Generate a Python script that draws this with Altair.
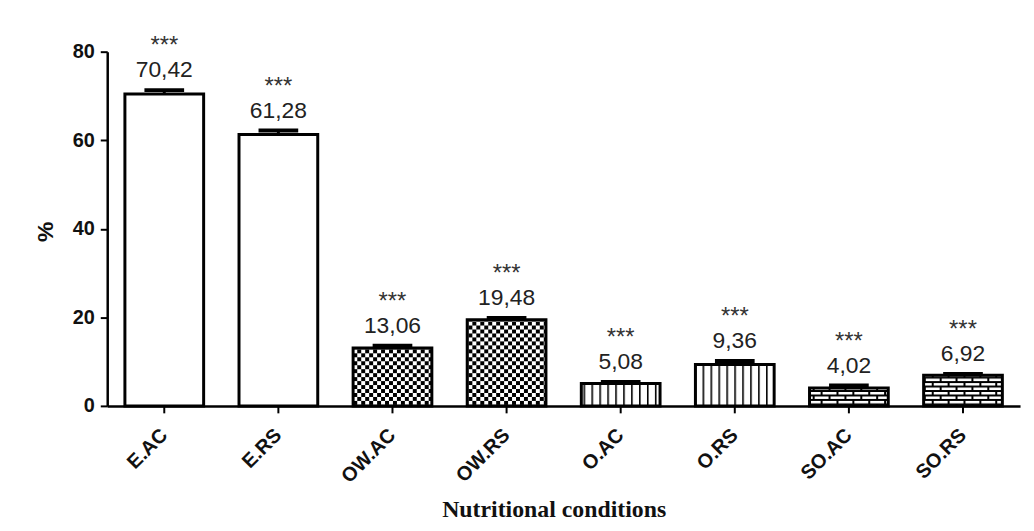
import jinja2
import altair as alt
import pandas as pd

# ---- data ----
categories = ["E.AC", "E.RS", "OW.AC", "OW.RS", "O.AC", "O.RS", "SO.AC", "SO.RS"]
values = [70.42, 61.28, 13.06, 19.48, 5.08, 9.36, 4.02, 6.92]
errors = [0.9, 0.9, 0.5, 0.4, 0.3, 0.8, 0.6, 0.3]
groups = ["E", "E", "OW", "OW", "O", "O", "SO", "SO"]
stars = ["***", "***", "***", "***", "***", "***", "***", "***"]
group_order = ["E", "OW", "O", "SO"]
y_ticks = [0, 20, 40, 60, 80]

df = pd.DataFrame({"cond": categories, "pct": values, "sem": errors,
                   "grp": groups, "sig": stars})

# fills: plain white plus SVG patterns defined in the page
fill_range = ["white", "url(#pchk)", "url(#pvln)", "url(#pbrk)"]

xscale = alt.Scale(paddingInner=0.31, paddingOuter=0.155)
yscale = alt.Scale(domain=[0, 80], nice=False)

base = alt.Chart(df).transform_calculate(
    top="datum.pct + datum.sem",
    label="replace(format(datum.pct, '.2f'), '.', ',')",
)

x_axis = alt.Axis(
    title="Nutritional conditions", labelAngle=-45, labelAlign="right",
    labelBaseline="top", labelPadding=12, labelOffset=-7, labelFont="Liberation Sans",
    labelFontWeight="bold", labelFontSize=20, titleFont="Liberation Serif",
    titleFontWeight="bold", titleFontSize=24, titleX=450, titleY=111,
    titleBaseline="alphabetic", titleAlign="center",
)
y_axis = alt.Axis(
    title="%", values=y_ticks, grid=False, labelFont="Liberation Sans",
    labelFontWeight="bold", labelFontSize=20, labelPadding=6,
    titleFont="Liberation Sans", titleFontWeight="bold", titleFontSize=23,
    titleX=-62, titleY=181, titleAngle=270, titleAlign="center",
    titleBaseline="middle",
)

X = alt.X("cond:N", sort=categories, scale=xscale, axis=x_axis)


def Y(field):
    return alt.Y(field, scale=yscale, axis=y_axis)


bars = base.mark_bar(stroke="black", strokeWidth=3, fillOpacity=1).encode(
    x=X, y=Y("pct:Q"),
    fill=alt.Fill("grp:N", scale=alt.Scale(domain=group_order, range=fill_range), legend=None),
)

err = base.mark_rule(color="black", strokeWidth=3).encode(
    x=X, y=Y("pct:Q"), y2="top:Q")

cap = base.mark_tick(color="black", thickness=4, size=40, opacity=1).encode(
    x=X, y=Y("top:Q"))

vals = base.mark_text(baseline="bottom", dy=-8, fontSize=23,
                      font="Liberation Sans", color="#222").encode(
    x=X, y=Y("top:Q"), text="label:N")

sig = base.mark_text(baseline="bottom", dy=-32, fontSize=24,
                     font="Liberation Sans", color="#333").encode(
    x=X, y=Y("top:Q"), text="sig:N")

chart = alt.layer(bars, err, cap, vals, sig).properties(
    width=920, height=357, autosize="none",
    padding={"left": 100, "top": 42, "right": 6, "bottom": 116},
).configure_view(stroke=None).configure_axis(
    domainColor="black", domainWidth=2.5, tickColor="black", tickWidth=2,
    tickSize=7, labelColor="#111", titleColor="#111",
)

PATTERNS = """
<svg width="0" height="0" style="position:absolute;left:0;top:0">
 <defs>
  <pattern id="pchk" patternUnits="userSpaceOnUse" width="8" height="8">
   <rect width="8" height="8" fill="white"/>
   <rect width="4" height="4" fill="black"/>
   <rect x="4" y="4" width="4" height="4" fill="black"/>
  </pattern>
  <pattern id="pvln" patternUnits="userSpaceOnUse" width="8" height="8">
   <rect width="8" height="8" fill="white"/>
   <rect x="0" y="0" width="1.6" height="8" fill="black"/>
  </pattern>
  <pattern id="pbrk" patternUnits="userSpaceOnUse" width="16" height="9">
   <rect width="16" height="9" fill="black"/>
   <rect x="1" y="1" width="14" height="2.5" fill="white"/>
   <rect x="-7" y="5.5" width="14" height="2.5" fill="white"/>
   <rect x="9" y="5.5" width="14" height="2.5" fill="white"/>
  </pattern>
 </defs>
</svg>
"""

PAGE = jinja2.Template("""<!DOCTYPE html>
<html>
<head>
  <style>
    #{{ output_div }}.vega-embed { width: 100%; display: flex; }
    #{{ output_div }}.vega-embed details,
    #{{ output_div }}.vega-embed details summary { position: relative; }
  </style>
  <script type="text/javascript" src="{{ base_url }}/vega@{{ vega_version }}"></script>
  <script type="text/javascript" src="{{ base_url }}/vega-lite@{{ vegalite_version }}"></script>
  <script type="text/javascript" src="{{ base_url }}/vega-embed@{{ vegaembed_version }}"></script>
</head>
<body>
""" + PATTERNS + """
  <div id="{{ output_div }}"></div>
  <script>
    (function(vegaEmbed) {
      var spec = {{ spec }};
      var embedOpt = {{ embed_options }};
      function showError(el, error){
        el.innerHTML = ('<div style="color:red;"><p>JavaScript Error: ' + error.message + '</p></div>');
        throw error;
      }
      const el = document.getElementById('{{ output_div }}');
      vegaEmbed("#{{ output_div }}", spec, embedOpt).catch(error => showError(el, error));
    })(vegaEmbed);
  </script>
</body>
</html>""")

chart.save("out.html", embed_options={"renderer": "svg", "actions": False}, template=PAGE)
